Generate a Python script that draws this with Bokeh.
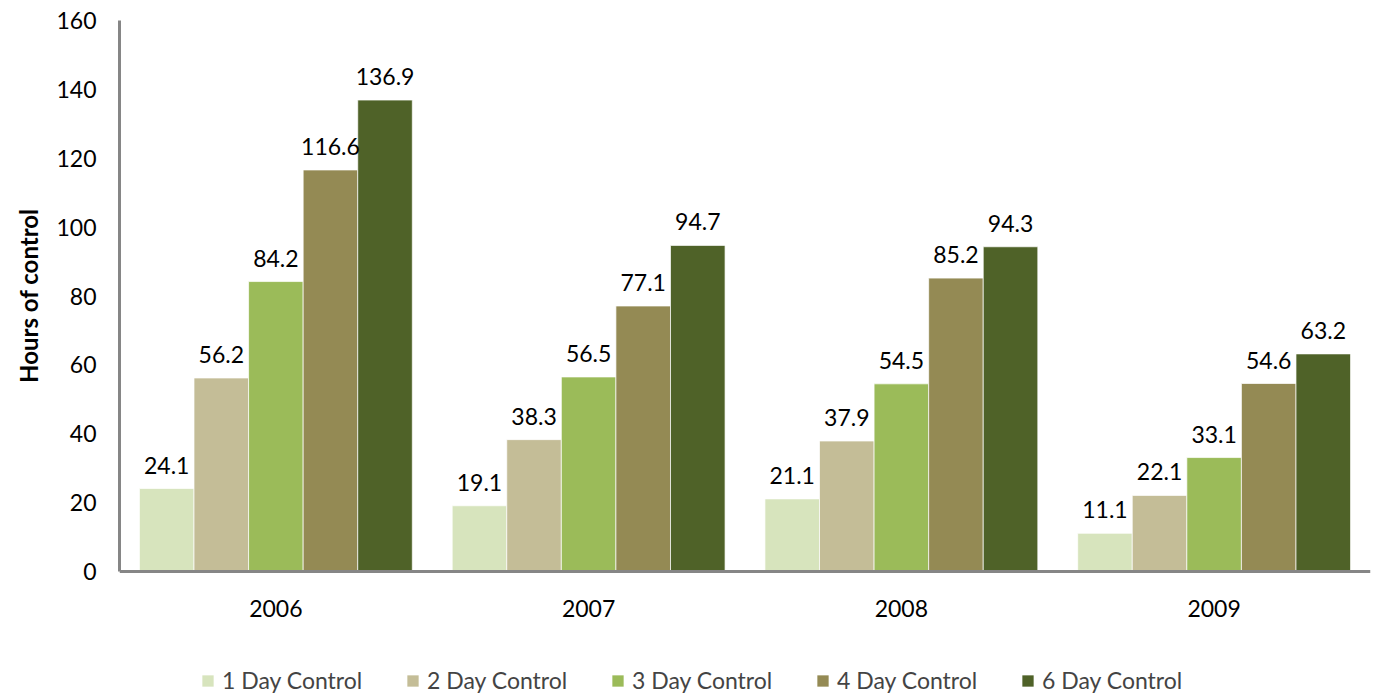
from bokeh.plotting import figure
from bokeh.models import ColumnDataSource, LabelSet, Legend, LegendItem, Range1d, Title
from bokeh.transform import dodge
from bokeh.core.properties import value
from bokeh.embed import file_html
from bokeh.resources import INLINE

years = ["2006", "2007", "2008", "2009"]
series_names = ["1 Day Control", "2 Day Control", "3 Day Control", "4 Day Control", "6 Day Control"]
day1 = [24.1, 19.1, 21.1, 11.1]
day2 = [56.2, 38.3, 37.9, 22.1]
day3 = [84.2, 56.5, 54.5, 33.1]
day4 = [116.6, 77.1, 85.2, 54.6]
day6 = [136.9, 94.7, 94.3, 63.2]
colors = ["#D7E4BD", "#C4BD97", "#9BBB59", "#948A54", "#4F6228"]
y_ticks = [0, 20, 40, 60, 80, 100, 120, 140, 160]
y_title = "Hours of control"

FONT = "Lato"
FS = "23px"

p = figure(x_range=years, width=1380, height=694, output_backend="svg",
           toolbar_location=None, min_border_left=118, min_border_right=10,
           min_border_top=20, min_border_bottom=0)
# frame reaches the bottom of the page; the value axis itself is bounded to 0..160
p.y_range = Range1d(-35.7, 160)

bw = 0.1745
offsets = [-2 * bw, -bw, 0, bw, 2 * bw]
all_vals = [day1, day2, day3, day4, day6]
items = []
for name, vals, col, off in zip(series_names, all_vals, colors, offsets):
    src = ColumnDataSource(dict(year=years, v=vals, lbl=[f"{v:.1f}" for v in vals]))
    r = p.vbar(x=dodge("year", off, range=p.x_range), top="v", bottom=0, width=bw, source=src,
               fill_color=col, line_color="white", line_width=0.7)
    items.append(LegendItem(label=name, renderers=[r]))
    lab = LabelSet(x=dodge("year", off, range=p.x_range), y="v", text="lbl", source=src,
                   text_align="center", text_baseline="bottom", y_offset=15,
                   text_font=value(FONT), text_font_size=value(FS), text_color="#000000")
    p.add_layout(lab)

p.xgrid.grid_line_color = None
p.ygrid.grid_line_color = None
p.outline_line_color = None

for ax in (p.xaxis, p.yaxis):
    ax.axis_line_color = "#868686"
    ax.axis_line_width = 3
    ax.major_tick_line_color = None
    ax.minor_tick_line_color = None
    ax.major_tick_out = 0
    ax.major_tick_in = 0
    ax.minor_tick_out = 0
    ax.major_label_text_font = FONT
    ax.major_label_text_font_size = FS
    ax.major_label_text_color = "#000000"

p.xaxis.fixed_location = 0
p.xaxis.major_label_standoff = 28
p.yaxis.ticker = y_ticks
p.yaxis.bounds = (y_ticks[0], y_ticks[-1])
p.yaxis.major_label_standoff = 23

ytitle = Title(text=y_title, align="right", offset=188, text_font=FONT,
               text_font_style="bold", text_font_size="24px", text_color="#000000",
               standoff=22)
p.add_layout(ytitle, "left")

legend = Legend(items=items, orientation="horizontal", location=(81, 0),
                glyph_width=15, glyph_height=15, label_standoff=7, label_width=163,
                spacing=20, padding=0, margin=0, border_line_alpha=0,
                background_fill_alpha=0, label_text_font=FONT,
                label_text_font_size=FS, label_height=20)
p.add_layout(legend, "center")

open("out.html", "w").write(file_html(p, INLINE))
